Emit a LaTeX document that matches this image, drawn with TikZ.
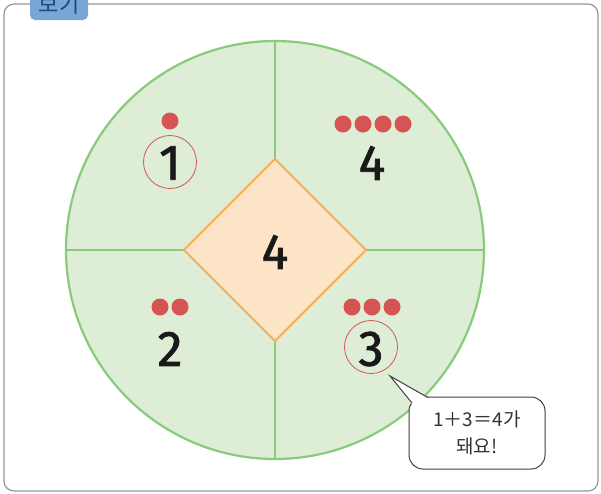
\documentclass[tikz,border=0pt]{standalone}
\usepackage{fontspec}
\setmainfont{Fira Sans}
\newfontfamily\krfont{Noto Sans CJK KR}
\newfontfamily\digfont[FakeBold=1.6]{Fira Sans}
\usepackage{tikz}
\usetikzlibrary{positioning,calc}
\definecolor{bgreen}{RGB}{221,237,214}
\definecolor{lgreen}{RGB}{138,202,124}
\definecolor{dfill}{RGB}{254,228,199}
\definecolor{dline}{RGB}{248,176,84}
\definecolor{dotred}{RGB}{214,84,84}
\definecolor{tabblue}{RGB}{122,166,212}
\definecolor{tabtext}{RGB}{28,72,130}
\definecolor{framegray}{RGB}{150,150,150}

\begin{document}
\begin{tikzpicture}[x=1pt,y=-1pt,
  dig/.style={font=\digfont\fontsize{50}{50}\selectfont, text=black!90},
  dot/.style={circle,fill=dotred,inner sep=0pt,minimum size=17pt},
  ring/.style={circle,draw=dotred,line width=0.8pt,minimum size=53pt,inner sep=0pt}]
  \useasboundingbox (0,0) rectangle (601,493);
  % outer frame and tab
  \draw[framegray,line width=1.2pt,rounded corners=10pt] (4,4) rectangle (598,491);
  \fill[tabblue,rounded corners=5pt] (30,-12) rectangle (88,20);
  \node[font=\krfont\fontsize{22}{22}\selectfont,text=tabtext] (tab) at (59,4) {보기};
  % disc with four quarters
  \fill[bgreen] (275,250) circle (209);
  \draw[lgreen,line width=2.2pt] (275,250) circle (209);
  \draw[lgreen,line width=2.2pt] (275,41) -- (275,459);
  \draw[lgreen,line width=2.2pt] (66,250) -- (484,250);
  % centre diamond
  \draw[dline,fill=dfill,line width=1.8pt] (275,159) -- (366,250) -- (275,341) -- (184,250) -- cycle;
  \node[dig] (mid) at (275,252) {4};
  % quarter top left
  \node[dot] (d1) at (170,121) {};
  \node[dig] (n1) at (170,163) {1};
  \node[ring] (r1) at (170,162) {};
  % quarter top right
  \foreach \x in {343,363,383,403}
    \node[dot] at (\x,124) {};
  \node[dig] (n4) at (372,163) {4};
  % quarter bottom left
  \foreach \x in {160,180}
    \node[dot] at (\x,307) {};
  \node[dig] (n2) at (170,349) {2};
  % quarter bottom right
  \foreach \x in {352,372,392}
    \node[dot] at (\x,307) {};
  \node[dig] (n3) at (371,349) {3};
  \node[ring] (r3) at (371,347) {};
  % speech bubble
  \node[draw=black!75,fill=white,line width=1pt,rounded corners=14pt,
        minimum width=136pt,minimum height=72pt,align=center,
        font=\krfont\fontsize{19}{27}\selectfont,text=black!80] (tip) at (477,433)
        {1＋3＝4가\\돼요!};
  \coordinate (tail) at (390,376);
  \fill[white] (tail) -- (412,404) -- (428,397.6) -- cycle;
  \draw[black!75,line width=1pt] (412,403) -- (tail) -- (428,397.6);
\end{tikzpicture}
\end{document}
